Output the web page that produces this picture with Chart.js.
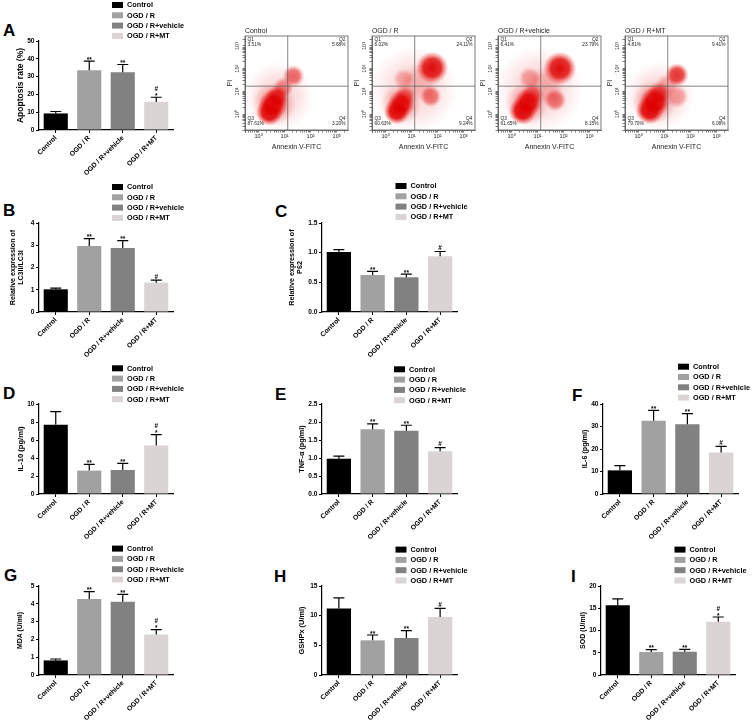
<!DOCTYPE html>
<html><head><meta charset="utf-8">
<script src="https://cdn.jsdelivr.net/npm/chart.js@4.4.1/dist/chart.umd.min.js"></script>
<style>
html,body{margin:0;padding:0;background:#fff}
#page{position:relative;width:753px;height:721px;overflow:hidden;background:#fff}
canvas{position:absolute}
.letter{position:absolute;font:bold 17px/1 "Liberation Sans",Arial,sans-serif;color:#000}
</style></head><body><div id="page">
<div class="letter" style="left:3px;top:22px">A</div>
<div class="letter" style="left:3px;top:202px">B</div>
<div class="letter" style="left:275px;top:203px">C</div>
<div class="letter" style="left:3px;top:385px">D</div>
<div class="letter" style="left:275px;top:386px">E</div>
<div class="letter" style="left:572px;top:387px">F</div>
<div class="letter" style="left:4px;top:567px">G</div>
<div class="letter" style="left:274px;top:568px">H</div>
<div class="letter" style="left:571px;top:568px">I</div>
</div>
<script>
// ---------------- data ----------------
const groups = ["Control", "OGD / R", "OGD / R+vehicle", "OGD / R+MT"];

const apoptosisMean = [9.3, 33.6, 32.5, 15.8];
const apoptosisSD   = [1.1, 5.1, 4.3, 2.6];
const apoptosisSig  = [[], ["**"], ["**"], ["*", "#"]];
const apoptosisTicks = [0, 10, 20, 30, 40, 50];
const apoptosisTitle = "Apoptosis rate (%)";

const lc3Mean = [1.02, 2.97, 2.88, 1.32];
const lc3SD   = [0.05, 0.33, 0.33, 0.11];
const lc3Sig  = [[], ["**"], ["**"], ["#"]];
const lc3Ticks = [0, 1, 2, 3, 4];
const lc3Title = ["Relative expression of", "LC3II/LC3I"];

const p62Mean = [1.01, 0.625, 0.585, 0.94];
const p62SD   = [0.04, 0.06, 0.055, 0.08];
const p62Sig  = [[], ["**"], ["**"], ["#"]];
const p62Ticks = [0, 0.5, 1.0, 1.5];
const p62Title = ["Relative expression of", "P62"];

const il10Mean = [7.7, 2.6, 2.67, 5.4];
const il10SD   = [1.45, 0.7, 0.73, 1.2];
const il10Sig  = [[], ["**"], ["**"], ["*", "#"]];
const il10Ticks = [0, 2, 4, 6, 8, 10];
const il10Title = "IL-10 (pg/ml)";

const tnfMean = [0.98, 1.8, 1.76, 1.19];
const tnfSD   = [0.07, 0.15, 0.15, 0.1];
const tnfSig  = [[], ["**"], ["**"], ["#"]];
const tnfTicks = [0, 0.5, 1.0, 1.5, 2.0, 2.5];
const tnfTitle = "TNF-\u03b1 (pg/ml)";

const il6Mean = [10.5, 32.6, 31.0, 18.4];
const il6SD   = [2.1, 4.6, 4.7, 2.8];
const il6Sig  = [[], ["**"], ["**"], ["#"]];
const il6Ticks = [0, 10, 20, 30, 40];
const il6Title = "IL-6 (pg/ml)";

const mdaMean = [0.82, 4.27, 4.12, 2.28];
const mdaSD   = [0.08, 0.41, 0.41, 0.27];
const mdaSig  = [[], ["**"], ["**"], ["*", "#"]];
const mdaTicks = [0, 1, 2, 3, 4, 5];
const mdaTitle = "MDA (U/ml)";

const gshMean = [11.2, 5.84, 6.24, 9.78];
const gshSD   = [1.8, 0.9, 1.23, 1.46];
const gshSig  = [[], ["**"], ["**"], ["#"]];
const gshTicks = [0, 5, 10, 15];
const gshTitle = "GSHPx (U/ml)";

const sodMean = [15.7, 5.17, 5.24, 11.98];
const sodSD   = [1.4, 0.52, 0.53, 1.05];
const sodSig  = [[], ["**"], ["**"], ["*", "#"]];
const sodTicks = [0, 5, 10, 15, 20];
const sodTitle = "SOD (U/ml)";

// flow cytometry
const flowSamples = ["Control", "OGD / R", "OGD / R+vehicle", "OGD / R+MT"];
const flowQ1 = [3.51, 6.02, 6.41, 4.81];
const flowQ2 = [5.68, 24.11, 23.79, 9.41];
const flowQ3 = [87.61, 60.63, 61.65, 79.70];
const flowQ4 = [3.20, 9.24, 8.15, 6.08];
const flowTickValues = [1, 10, 100, 1000];
const flowTickLabels = ["10\u2070", "10\u00b9", "10\u00b2", "10\u00b3"];
const annexinRange = [0.3, 2750];
const piRange = [0.2, 2750];
const annexinGate = 13.2;
const piGate = 17;
// event clouds: centre (Annexin, PI), spread in decades, relative density
const controlEvents = [
  {x: 6, y: 6, s: 1.35, w: 0.14}, {x: 4, y: 3, s: 0.85, w: 0.3},
  {x: 2.6, y: 1.2, s: 0.52, w: 1}, {x: 3.6, y: 2.6, s: 0.56, w: 1},
  {x: 5.0, y: 5.5, s: 0.46, w: 0.8}, {x: 9, y: 15, s: 0.4, w: 0.45},
  {x: 22, y: 48, s: 0.42, w: 0.6}
];
const ogdEvents = [
  {x: 12, y: 12, s: 1.7, w: 0.13}, {x: 4, y: 3, s: 0.8, w: 0.28},
  {x: 2.7, y: 1.3, s: 0.5, w: 1}, {x: 4, y: 2.8, s: 0.52, w: 0.95},
  {x: 5.5, y: 6, s: 0.42, w: 0.55}, {x: 5, y: 35, s: 0.42, w: 0.3},
  {x: 20, y: 25, s: 0.75, w: 0.22}, {x: 62, y: 110, s: 0.62, w: 0.95},
  {x: 54, y: 6, s: 0.42, w: 0.55}
];
const vehicleEvents = [
  {x: 12, y: 12, s: 1.7, w: 0.14}, {x: 4, y: 3, s: 0.85, w: 0.3},
  {x: 2.7, y: 1.4, s: 0.54, w: 1}, {x: 4.3, y: 3.2, s: 0.54, w: 0.95},
  {x: 6, y: 7, s: 0.44, w: 0.55}, {x: 5, y: 38, s: 0.44, w: 0.35},
  {x: 20, y: 18, s: 0.75, w: 0.25}, {x: 72, y: 105, s: 0.64, w: 0.95},
  {x: 47, y: 4.2, s: 0.44, w: 0.55}
];
const mtEvents = [
  {x: 6.3, y: 6.3, s: 1.35, w: 0.14}, {x: 4, y: 3.5, s: 0.85, w: 0.3},
  {x: 2.7, y: 1.5, s: 0.55, w: 1}, {x: 4.2, y: 3.6, s: 0.58, w: 1},
  {x: 6, y: 8, s: 0.45, w: 0.6}, {x: 12, y: 18, s: 0.45, w: 0.3},
  {x: 30, y: 54, s: 0.45, w: 0.8}, {x: 30, y: 5.9, s: 0.45, w: 0.35}
];
const flowEvents = [controlEvents, ogdEvents, vehicleEvents, mtEvents];

// ---------------- style / layout ----------------
const FONT = '"Liberation Sans", Arial, Helvetica, sans-serif';
const barColors = ["#000000", "#a1a1a1", "#818181", "#dbd4d4"];
Chart.defaults.font.family = FONT;
Chart.defaults.color = "#000";
Chart.defaults.animation = false;
Chart.defaults.events = [];
Chart.defaults.plugins.legend.display = false;
Chart.defaults.plugins.tooltip.enabled = false;

const page = document.getElementById("page");
function addCanvas(x, y, w, h) {
  const c = document.createElement("canvas");
  c.width = w; c.height = h;
  c.style.left = x + "px"; c.style.top = y + "px";
  c.style.width = w + "px"; c.style.height = h + "px";
  page.appendChild(c);
  return c;
}

const errorBars = {
  id: "errorBars",
  afterDatasetsDraw(chart) {
    const ctx = chart.ctx, y = chart.scales.y;
    const ds = chart.data.datasets[0];
    const meta = chart.getDatasetMeta(0);
    ctx.save();
    ctx.strokeStyle = "#000"; ctx.lineWidth = 1.2; ctx.fillStyle = "#000";
    ctx.textAlign = "center"; ctx.textBaseline = "alphabetic";
    ctx.font = "bold 6.5px " + FONT;
    meta.data.forEach((bar, i) => {
      const v = ds.data[i], e = ds.sd[i];
      const y0 = y.getPixelForValue(v), y1 = y.getPixelForValue(v + e);
      ctx.beginPath();
      ctx.moveTo(bar.x, y0); ctx.lineTo(bar.x, y1);
      ctx.moveTo(bar.x - 5.5, y1); ctx.lineTo(bar.x + 5.5, y1);
      ctx.stroke();
      let base = y1 + 0.5;
      ds.sig[i].forEach((m, k) => {
        if (m === "#" && k === 0) base = y1 - 1.5;
        ctx.fillText(m, bar.x, base);
        base -= 6.8;
      });
    });
    ctx.restore();
  }
};

const groupLegend = {
  id: "groupLegend",
  afterDraw(chart, args, o) {
    const ctx = chart.ctx, a = chart.chartArea;
    const ds = chart.data.datasets[0];
    ctx.save();
    ctx.font = "bold 7.3px " + FONT;
    ctx.textBaseline = "middle"; ctx.textAlign = "left";
    chart.data.labels.forEach((lab, i) => {
      const cy = a.top + o.dy + i * 10.3;
      ctx.fillStyle = ds.backgroundColor[i];
      ctx.fillRect(a.left + o.dx, cy - 3, 11, 6);
      ctx.fillStyle = "#000";
      ctx.fillText(lab, a.left + o.dx + 15, cy + 0.3);
    });
    ctx.restore();
  }
};

function barChart(p) {
  const YW = 40, TOP = 44, XH = 62, RP = 24;
  const [L, T, R, B] = p.area;
  const w = YW + (R - L) + RP, h = TOP + (B - T) + XH;
  const cv = addCanvas(L - YW, T - TOP, w, h);
  const lh = p.titleSize * p.titleLine;
  new Chart(cv, {
    type: "bar",
    data: {
      labels: groups,
      datasets: [{
        data: p.mean, sd: p.sd, sig: p.sig,
        backgroundColor: barColors, borderWidth: 0,
        barPercentage: 0.72, categoryPercentage: 1
      }]
    },
    options: {
      responsive: false, devicePixelRatio: 1, animation: false,
      layout: { padding: { top: TOP, left: 0, right: RP, bottom: 0 } },
      scales: {
        x: {
          offset: true,
          grid: { display: true, offset: false, drawOnChartArea: false, drawTicks: true, tickLength: 3, color: "#000", lineWidth: 1 },
          border: { display: true, color: "#000", width: 1.2 },
          ticks: { autoSkip: false, minRotation: 45, maxRotation: 45, padding: 1, font: { size: 6.8, weight: "bold" }, color: "#000" },
          afterFit: s => { s.height = XH; }
        },
        y: {
          min: p.ticks[0], max: p.ticks[p.ticks.length - 1],
          afterBuildTicks: s => { s.ticks = p.ticks.map(v => ({ value: v })); },
          grid: { display: true, drawOnChartArea: false, drawTicks: true, tickLength: 3, color: "#000", lineWidth: 1 },
          border: { display: true, color: "#000", width: 1.2 },
          ticks: { padding: 1.5, font: { size: 6.6, weight: "bold" }, color: "#000",
                   callback: v => p.decimals ? Number(v).toFixed(p.decimals) : String(v) },
          title: { display: true, text: p.title, color: "#000",
                   font: { size: p.titleSize, weight: "bold", lineHeight: p.titleLine },
                   padding: { top: (YW + p.titleX) - lh / 2, bottom: 0 } },
          afterFit: s => { s.width = YW; }
        }
      },
      plugins: { groupLegend: { dx: p.legX, dy: p.legY } }
    },
    plugins: [errorBars, groupLegend]
  });
}

const barPanels = [
  { area: [39, 41, 173, 130],  mean: apoptosisMean, sd: apoptosisSD, sig: apoptosisSig, ticks: apoptosisTicks, decimals: 0, title: apoptosisTitle, titleSize: 8.5, titleLine: 1.2, titleX: -18.3, legX: 73, legY: -36 },
  { area: [39, 223, 173, 312], mean: lc3Mean, sd: lc3SD, sig: lc3Sig, ticks: lc3Ticks, decimals: 0, title: lc3Title, titleSize: 7.1, titleLine: 1.0, titleX: -25.5, legX: 73, legY: -36 },
  { area: [322, 223, 457, 312], mean: p62Mean, sd: p62SD, sig: p62Sig, ticks: p62Ticks, decimals: 1, title: p62Title, titleSize: 7.2, titleLine: 1.0, titleX: -29.5, legX: 73.5, legY: -37 },
  { area: [39, 404, 173, 494], mean: il10Mean, sd: il10SD, sig: il10Sig, ticks: il10Ticks, decimals: 0, title: il10Title, titleSize: 7.6, titleLine: 1.2, titleX: -18.2, legX: 73, legY: -35.7 },
  { area: [322, 404, 457, 494], mean: tnfMean, sd: tnfSD, sig: tnfSig, ticks: tnfTicks, decimals: 1, title: tnfTitle, titleSize: 7.3, titleLine: 1.2, titleX: -19.8, legX: 72, legY: -34.7 },
  { area: [603, 404, 738, 494], mean: il6Mean, sd: il6SD, sig: il6Sig, ticks: il6Ticks, decimals: 0, title: il6Title, titleSize: 7.2, titleLine: 1.2, titleX: -18, legX: 75, legY: -37.3 },
  { area: [39, 586, 173, 675], mean: mdaMean, sd: mdaSD, sig: mdaSig, ticks: mdaTicks, decimals: 0, title: mdaTitle, titleSize: 6.9, titleLine: 1.2, titleX: -18.5, legX: 73, legY: -37.4 },
  { area: [322, 586, 457, 675], mean: gshMean, sd: gshSD, sig: gshSig, ticks: gshTicks, decimals: 0, title: gshTitle, titleSize: 7.4, titleLine: 1.2, titleX: -19.8, legX: 73.5, legY: -36.4 },
  { area: [601, 586, 735, 675], mean: sodMean, sd: sodSD, sig: sodSig, ticks: sodTicks, decimals: 0, title: sodTitle, titleSize: 7.0, titleLine: 1.2, titleX: -18.2, legX: 73.5, legY: -36.4 }
];
barPanels.forEach(barChart);

// ---------------- flow cytometry ----------------
function keepIntegerTicks(s) {
  s.ticks = s.ticks.filter(t => {
    const e = Math.floor(Math.log10(t.value) + 1e-9);
    const m = t.value / Math.pow(10, e);
    return Math.abs(m - Math.round(m)) < 1e-6;
  });
}
function decadeLabel(v) {
  const k = flowTickValues.findIndex(t => Math.abs(t - v) < 1e-6 * t);
  return k >= 0 ? flowTickLabels[k] : "";
}
// density clouds painted at the element positions computed by Chart.js
const eventClouds = {
  id: "eventClouds",
  beforeDatasetsDraw(chart) {
    const ctx = chart.ctx, a = chart.chartArea, xs = chart.scales.x;
    const dec = xs.getPixelForValue(10) - xs.getPixelForValue(1);
    const meta = chart.getDatasetMeta(0);
    const data = chart.data.datasets[0].data;
    ctx.save();
    ctx.beginPath();
    ctx.rect(a.left, a.top, a.right - a.left, a.bottom - a.top);
    ctx.clip();
    meta.data.forEach((el, i) => {
      const d = data[i];
      const r = Math.max(1, d.s * dec), w = d.w;
      const g = ctx.createRadialGradient(el.x, el.y, 0, el.x, el.y, r);
      g.addColorStop(0, "rgba(222,0,0," + Math.min(1, w) + ")");
      g.addColorStop(0.55, "rgba(224,0,0," + (0.85 * w) + ")");
      g.addColorStop(0.8, "rgba(228,20,20," + (0.35 * w) + ")");
      g.addColorStop(1, "rgba(232,50,50,0)");
      ctx.fillStyle = g;
      ctx.beginPath();
      ctx.arc(el.x, el.y, r, 0, Math.PI * 2);
      ctx.fill();
    });
    ctx.restore();
  }
};
const flowFrame = {
  id: "flowFrame",
  afterDatasetsDraw(chart, args, o) {
    const ctx = chart.ctx, a = chart.chartArea;
    const gx = chart.scales.x.getPixelForValue(annexinGate);
    const gy = chart.scales.y.getPixelForValue(piGate);
    ctx.save();
    ctx.strokeStyle = "#666"; ctx.lineWidth = 0.8;
    ctx.beginPath();
    ctx.moveTo(gx, a.top); ctx.lineTo(gx, a.bottom);
    ctx.moveTo(a.left, gy); ctx.lineTo(a.right, gy);
    ctx.stroke();
    ctx.strokeStyle = "#555";
    ctx.strokeRect(a.left, a.top, a.right - a.left, a.bottom - a.top);
    ctx.fillStyle = "#222";
    ctx.font = "4.8px " + FONT;
    const q = o.q;
    const f = v => v.toFixed(2) + "%";
    ctx.textBaseline = "top";
    ctx.textAlign = "left";
    ctx.fillText("Q1", a.left + 2.5, a.top + 1.6);
    ctx.fillText(f(q[0]), a.left + 2.5, a.top + 5.8);
    ctx.textAlign = "right";
    ctx.fillText("Q2", a.right - 2.5, a.top + 1.6);
    ctx.fillText(f(q[1]), a.right - 2.5, a.top + 5.8);
    ctx.textBaseline = "bottom";
    ctx.textAlign = "left";
    ctx.fillText("Q3", a.left + 2.5, a.bottom - 8.8);
    ctx.fillText(f(q[2]), a.left + 2.5, a.bottom - 4.2);
    ctx.textAlign = "right";
    ctx.fillText("Q4", a.right - 2.5, a.bottom - 8.8);
    ctx.fillText(f(q[3]), a.right - 2.5, a.bottom - 4.2);
    ctx.restore();
  }
};

const flowLeft = [245, 372, 498, 625];
function flowChart(i) {
  const YW = 22, TOPH = 12, XH = 22, RP = 3, PW = 103, PH = 94;
  const L = flowLeft[i];
  const cv = addCanvas(L - YW, 24, YW + PW + RP, TOPH + PH + XH);
  new Chart(cv, {
    type: "bubble",
    data: { datasets: [{ data: flowEvents[i], backgroundColor: "rgba(0,0,0,0)", radius: 0,
                         borderWidth: 0, hoverRadius: 0 }] },
    options: {
      responsive: false, devicePixelRatio: 1, animation: false,
      layout: { padding: { top: 0, left: 0, right: RP, bottom: 0 } },
      scales: {
        x: {
          type: "logarithmic", position: "bottom", min: annexinRange[0], max: annexinRange[1],
          afterBuildTicks: keepIntegerTicks,
          grid: { display: true, drawOnChartArea: false, drawTicks: true, tickLength: 2.5, color: "#444", lineWidth: 0.7 },
          border: { display: true, color: "#555", width: 0.8 },
          ticks: { autoSkip: false, minRotation: 0, maxRotation: 0, padding: 1, font: { size: 5.5 }, color: "#222", callback: decadeLabel },
          title: { display: true, text: "Annexin V-FITC", color: "#222", font: { size: 7 }, padding: { top: 0, bottom: 0.8 } },
          afterFit: s => { s.height = XH; }
        },
        xTop: {
          type: "linear", position: "top", min: 0, max: 1,
          grid: { display: false }, border: { display: false }, ticks: { display: false },
          title: { display: true, text: flowSamples[i], align: "start", color: "#222", font: { size: 6.9 }, padding: { top: 2.8, bottom: 0 } },
          afterFit: s => { s.height = TOPH; }
        },
        y: {
          type: "logarithmic", position: "left", min: piRange[0], max: piRange[1],
          afterBuildTicks: keepIntegerTicks,
          grid: { display: true, drawOnChartArea: false, drawTicks: true, tickLength: 2.5, color: "#444", lineWidth: 0.7 },
          border: { display: true, color: "#555", width: 0.8 },
          ticks: { autoSkip: false, minRotation: 90, maxRotation: 90, crossAlign: "center", padding: 1, font: { size: 5.5 }, color: "#222", callback: decadeLabel },
          title: { display: true, text: "PI", color: "#222", font: { size: 7 }, padding: { top: 2.8, bottom: 0 } },
          afterFit: s => { s.width = YW; }
        }
      },
      plugins: { flowFrame: { q: [flowQ1[i], flowQ2[i], flowQ3[i], flowQ4[i]] } }
    },
    plugins: [eventClouds, flowFrame]
  });
}
[0, 1, 2, 3].forEach(flowChart);
</script>
</body></html>
